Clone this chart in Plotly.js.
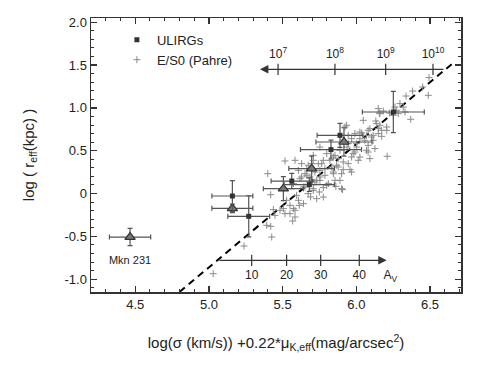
<!DOCTYPE html>
<html><head><meta charset="utf-8">
<script src="https://cdn.plot.ly/plotly-3.0.1.min.js"></script>
<style>html,body{margin:0;padding:0;background:#fff}#chart{width:491px;height:389px}</style>
</head><body><div id="chart"></div>
<script>
// E/S0 (Pahre) galaxies
const esoX = [6.493,6.450,6.488,6.382,6.337,6.369,6.296,6.318,6.273,6.330,6.149,6.183,6.160,6.284,6.047,6.138,6.160,6.206,6.172,6.149,6.206,6.024,6.080,6.069,6.103,6.114,6.058,6.080,6.126,6.002,6.024,5.968,5.945,5.923,5.945,5.990,5.968,6.080,6.092,6.209,6.013,5.945,5.911,5.877,5.844,5.821,5.799,5.753,5.708,5.765,5.787,5.833,5.877,5.844,5.911,5.957,5.855,5.900,5.810,5.753,5.719,5.685,5.652,5.618,5.584,5.629,5.607,5.664,5.697,5.573,5.641,5.708,5.776,5.673,5.595,5.527,5.550,5.505,5.573,5.516,5.568,5.482,5.731,5.776,5.968,5.906,5.861,5.731,5.749,5.708,5.437,5.448,5.392,5.419,5.426,5.550,5.584,5.238,5.399,5.516,5.029,5.607,5.584,5.613,5.641,5.629,5.690,5.719,5.419,6.262,6.132,6.149,6.114,6.036,6.172,6.156,6.224,6.251,5.934,5.990,6.092,6.002,5.937,5.889,5.855,5.776,5.742,5.708,5.674,5.979,6.024,6.069,5.866,5.753,5.664,5.787,5.844,5.900,5.753,5.686,5.652,5.889,5.799];
const esoY = [1.354,1.244,1.147,1.197,1.139,0.867,1.050,1.010,0.972,0.952,0.992,0.964,0.933,0.933,0.855,0.817,0.797,0.777,0.738,0.700,0.738,0.718,0.738,0.680,0.660,0.622,0.622,0.563,0.525,0.543,0.641,0.641,0.680,0.777,0.583,0.485,0.426,0.485,0.408,0.435,0.388,0.349,0.368,0.408,0.426,0.388,0.466,0.543,0.446,0.349,0.291,0.310,0.310,0.232,0.279,0.279,0.154,0.057,0.116,0.193,0.251,0.193,0.232,0.174,0.388,0.349,0.271,0.291,0.349,0.116,0.076,0.057,0.069,-0.001,-0.021,-0.079,-0.138,-0.176,-0.176,-0.235,-0.321,-0.196,0.154,-0.041,0.251,0.046,0.084,-0.060,0.018,0.037,-0.188,-0.255,-0.371,-0.383,-0.508,-0.235,-0.196,-0.613,0.232,0.380,-0.936,-0.079,-0.274,-0.138,-0.118,0.193,-0.040,0.134,-0.014,1.010,0.847,0.758,0.680,0.707,0.668,0.940,0.940,0.914,0.797,0.700,0.758,0.583,0.543,0.505,0.446,0.388,0.349,0.388,0.330,0.466,0.426,0.505,0.330,0.271,0.213,0.213,0.251,0.232,0.154,0.134,0.076,0.154,0.096];

// ULIRGs (squares)
const ulirgX    = [6.251, 5.889, 5.828, 5.562, 5.681, 5.159, 5.270];
const ulirgY    = [0.952, 0.680, 0.513, 0.146, 0.104, -0.029, -0.266];
const ulirgXerr = [0.210, 0.155, 0.207, 0.140, 0.170, 0.139, 0.142];
const ulirgYerr = [0.240, 0.140, 0.110, 0.090, 0.080, 0.180, 0.240];

// other objects (triangles), last one is Mkn 231
const triX    = [5.916, 5.697, 5.505, 5.159, 4.465];
const triY    = [0.602, 0.291, 0.057, -0.173, -0.508];
const triXerr = [0.190, 0.155, 0.136, 0.139, 0.140];
const triYerr = [0.166, 0.146, 0.140, 0.050, 0.100];

// fundamental plane line
const fitX = [4.80, 6.66];
const fitY = [-1.15, 1.53];

// mass arrow (top)
const massArrowY = 1.451;
const massArrowFrom = 6.601, massArrowTo = 5.346;
const massTickX = [5.469, 5.855, 6.199, 6.520];
const massTickLabels = ['10<sup>7</sup>','10<sup>8</sup>','10<sup>9</sup>','10<sup>10</sup>'];
const massLabelY = 1.62;

// extinction arrow (bottom)
const avArrowY = -0.78;
const avArrowFrom = 5.061, avArrowTo = 6.206;
const avTickX = [5.290, 5.527, 5.758, 6.020];
const avTickLabels = ['10','20','30','40'];
const avLabelY = -0.965;
const avNameX = 6.23;

const yTickVals = [-1.0,-0.5,0,0.5,1.0,1.5,2.0];
const yTickText = ['-1.0','-0.5','0','0.5','1.0','1.5','2.0'];
const xTickVals = [4.5,5.0,5.5,6.0,6.5];
const xTickText = ['4.5','5.0','5.5','6.0','6.5'];

const FONT = 'Liberation Sans, Arial, sans-serif';
const errStyle = {type:'data', visible:true, color:'#555', thickness:1.2, width:2.5};

const traces = [
  {x: fitX, y: fitY, mode:'lines', line:{color:'#000', width:2, dash:'7px,5px'}, showlegend:false, hoverinfo:'skip'},
  {x: esoX, y: esoY, mode:'markers', name:'E/S0 (Pahre)',
   marker:{symbol:'cross-thin-open', size:5, color:'#8a8a8a', line:{color:'#8a8a8a', width:1}}},
  {x: triX, y: triY, mode:'markers', showlegend:false,
   error_x: Object.assign({array: triXerr}, errStyle),
   error_y: Object.assign({array: triYerr}, errStyle),
   marker:{symbol:'triangle-up', size:9, color:'#777', line:{color:'#333', width:1.2}}},
  {x: ulirgX, y: ulirgY, mode:'markers', name:'ULIRGs',
   error_x: Object.assign({array: ulirgXerr}, errStyle),
   error_y: Object.assign({array: ulirgYerr}, errStyle),
   marker:{symbol:'square', size:5, color:'#333'}},
  {x: massTickX, y: massTickX.map(()=>massArrowY), mode:'markers', showlegend:false, hoverinfo:'skip',
   marker:{symbol:'line-ns', size:8, line:{color:'#333', width:1.2}}},
  {x: massTickX, y: massTickX.map(()=>massLabelY), mode:'text', text: massTickLabels, showlegend:false,
   textfont:{family:FONT, size:12, color:'#222'}, hoverinfo:'skip'},
  {x: avTickX, y: avTickX.map(()=>avArrowY), mode:'markers', showlegend:false, hoverinfo:'skip',
   marker:{symbol:'line-ns', size:8, line:{color:'#333', width:1.2}}},
  {x: avTickX, y: avTickX.map(()=>avLabelY), mode:'text', text: avTickLabels, showlegend:false,
   textfont:{family:FONT, size:12, color:'#222'}, hoverinfo:'skip'},
  {x: [avNameX], y: [avLabelY], mode:'text', text:['A<sub>V</sub>'], showlegend:false,
   textfont:{family:FONT, size:12, color:'#222'}, hoverinfo:'skip'},
  {x: [triX[4]], y: [-0.79], mode:'text', text:['Mkn 231'], showlegend:false,
   textfont:{family:FONT, size:11, color:'#222'}, hoverinfo:'skip'}
];

const axisCommon = {
  showline:true, linecolor:'#333', linewidth:1.5, mirror:'ticks',
  ticks:'inside', ticklen:6, tickwidth:1.2, tickcolor:'#333',
  minor:{ticks:'inside', ticklen:3, tickwidth:1, tickcolor:'#333', dtick:0.1},
  showgrid:false, zeroline:false, automargin:true,
  tickfont:{family:FONT, size:13, color:'#222'}
};

const layout = {
  width:491, height:389,
  margin:{l:91, r:30, t:18, b:97},
  paper_bgcolor:'#fff', plot_bgcolor:'#fff',
  font:{family:FONT, color:'#222'},
  showlegend:true,
  legend:{x:0.07, y:0.975, xanchor:'left', yanchor:'top', bgcolor:'rgba(0,0,0,0)',
          font:{family:FONT, size:13, color:'#222'}, tracegroupgap:0, traceorder:'reversed'},
  xaxis: Object.assign({}, axisCommon, {range:[4.2, 6.71], tickvals:xTickVals, ticktext:xTickText,
    title:{text:'log(σ (km/s)) +0.22*μ<sub>K,eff</sub>(mag/arcsec<sup>2</sup>)', font:{family:FONT, size:15, color:'#222'}, standoff:26}}),
  yaxis: Object.assign({}, axisCommon, {range:[-1.15, 2.05], tickvals:yTickVals, ticktext:yTickText,
    title:{text:'log ( r<sub>eff</sub>(kpc) )', font:{family:FONT, size:15, color:'#222'}, standoff:26}}),
  annotations:[
    {x: massArrowTo, y: massArrowY, ax: massArrowFrom, ay: massArrowY, xref:'x', yref:'y', axref:'x', ayref:'y',
     text:'', showarrow:true, arrowhead:2, arrowsize:1.3, arrowwidth:1.3, arrowcolor:'#333', standoff:0},
    {x: avArrowTo, y: avArrowY, ax: avArrowFrom, ay: avArrowY, xref:'x', yref:'y', axref:'x', ayref:'y',
     text:'', showarrow:true, arrowhead:2, arrowsize:1.3, arrowwidth:1.3, arrowcolor:'#333', standoff:0}
  ]
};

Plotly.newPlot('chart', traces, layout, {displayModeBar:false, staticPlot:true});
</script>
</body></html>
